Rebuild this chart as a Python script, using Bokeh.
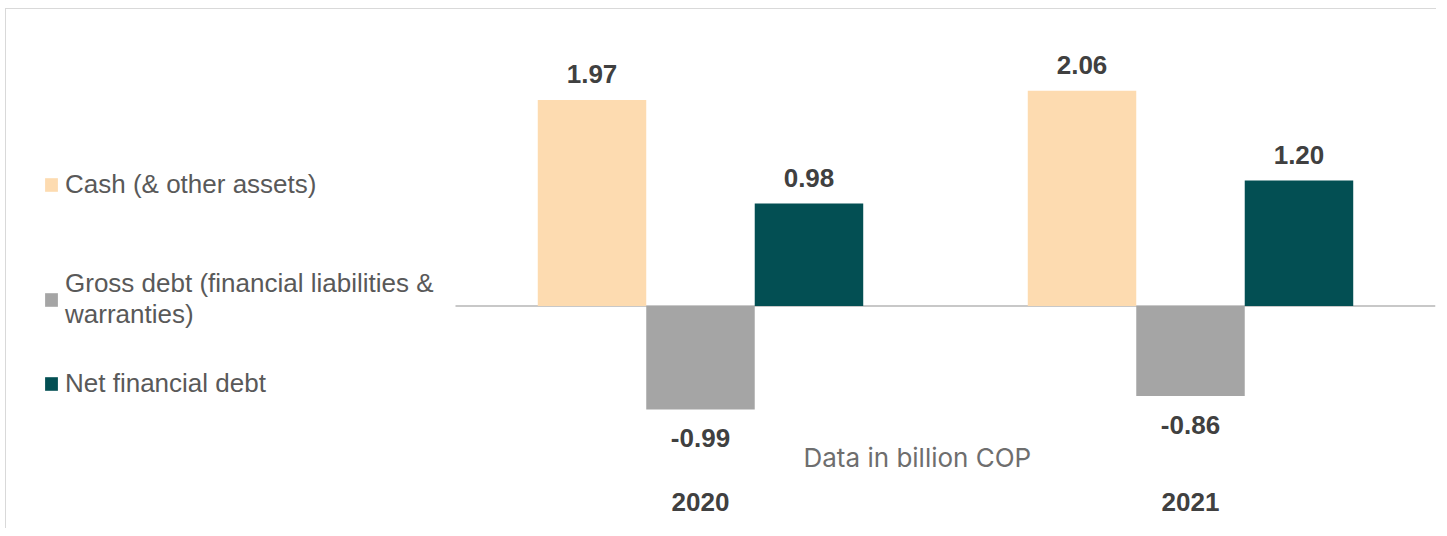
from bokeh.plotting import figure
from bokeh.models import (ColumnDataSource, Range1d, Legend, LegendItem, Label,
                          FixedTicker)
from bokeh.core.properties import value
from bokeh.embed import file_html
from bokeh.resources import INLINE

# ---- data ----
years = ["2020", "2021"]
cash = [1.97, 2.06]
gross_debt = [-0.99, -0.86]
net_debt = [0.98, 1.20]
series_names = ["Cash (& other assets)",
                "Gross debt (financial liabilities &\nwarranties)",
                "Net financial debt"]
series_colors = ["#FDDBB0", "#A5A5A5", "#034F53"]
note_text = "Data in billion COP"

FONT = "Liberation Sans"
idx = list(range(len(years)))

p = figure(width=1431, height=520, output_backend="svg", toolbar_location=None,
           x_range=Range1d(-1.4163, len(years) - 0.5),
           y_range=Range1d(-1.574, 2.837),
           y_axis_location=None,
           min_border_left=0, min_border_right=2,
           min_border_top=0, min_border_bottom=59)
p.outline_line_color = None
p.xgrid.visible = False
p.ygrid.visible = False
p.background_fill_color = "white"
p.border_fill_color = "white"
p.styles = {"border-top": "1px solid #d9d9d9", "border-left": "1px solid #d9d9d9",
            "margin-left": "5px", "margin-top": "8px"}

bar_w = 0.2214
offsets = [-bar_w, 0.0, bar_w]
all_vals = [cash, gross_debt, net_debt]

# zero line across the category area
p.segment(x0=[-0.5], x1=[len(years) - 0.5], y0=[0], y1=[0],
          line_color="#C8C8C8", line_width=2)

renderers = []
for vals, off, col in zip(all_vals, offsets, series_colors):
    src = ColumnDataSource(dict(
        x=[i + off for i in idx], val=vals,
        lab=[f"{v:.2f}" for v in vals],
        yoff=[-26 if v >= 0 else 29 for v in vals],
    ))
    r = p.vbar(x="x", top="val", bottom=0, width=bar_w, fill_color=col,
               line_color=None, source=src)
    renderers.append(r)
    p.text(x="x", y="val", text="lab", y_offset="yoff", source=src,
           text_align="center", text_baseline="middle", text_font=value(FONT),
           text_font_style="bold", text_font_size="26px", text_color="#404040")

# legends (one per item to mimic the spread layout)
leg_pos = [(37, 270), (37, 140), (37, 71)]
leg_base = ["middle", "top", "middle"]
for name, r, loc, base in zip(series_names, renderers, leg_pos, leg_base):
    lg = Legend(items=[LegendItem(label=name, renderers=[r])], location=loc,
                padding=0, margin=0, border_line_color=None,
                background_fill_alpha=0, glyph_width=16, glyph_height=17,
                label_standoff=6, label_text_font=FONT,
                label_text_baseline=base,
                label_text_font_size="26px", label_text_color="#595959")
    p.add_layout(lg, "center")

p.xaxis.ticker = FixedTicker(ticks=idx)
p.xaxis.major_label_overrides = {i: y for i, y in zip(idx, years)}
p.xaxis.axis_line_color = None
p.xaxis.major_tick_line_color = None
p.xaxis.minor_tick_line_color = None
p.xaxis.major_label_text_font = FONT
p.xaxis.major_label_text_font_style = "bold"
p.xaxis.major_label_text_font_size = "26px"
p.xaxis.major_label_text_color = "#404040"
p.xaxis.major_label_standoff = 16

p.add_layout(Label(x=797, y=13, x_units="screen", y_units="screen",
                   text=note_text, text_font="Inter",
                   text_font_size="26px", text_color="#6E6E6E",
                   text_baseline="middle"))

open("out.html", "w").write(file_html(p, INLINE))
